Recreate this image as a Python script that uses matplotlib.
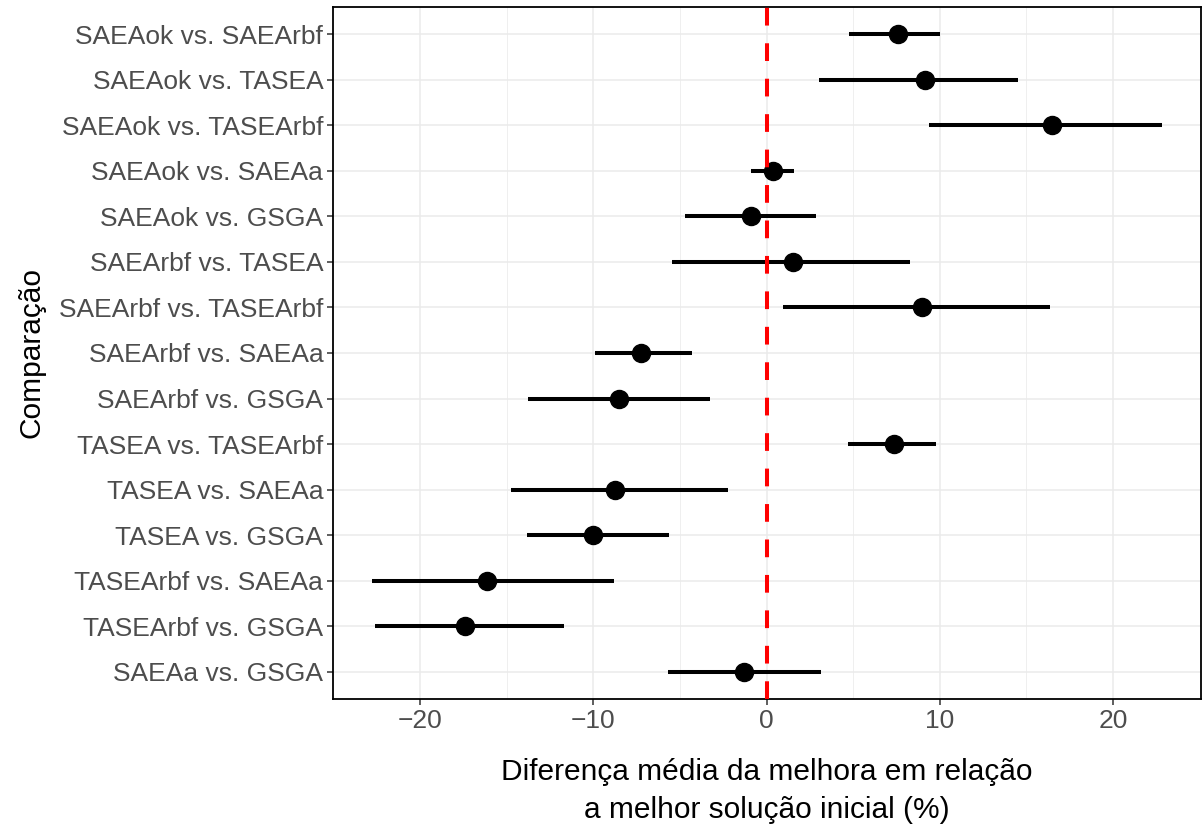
import numpy as np
import matplotlib.pyplot as plt
from matplotlib.ticker import MultipleLocator

plt.rcParams['font.family'] = ['Liberation Sans', 'DejaVu Sans']

comparacoes = ['SAEAok vs. SAEArbf', 'SAEAok vs. TASEA', 'SAEAok vs. TASEArbf',
               'SAEAok vs. SAEAa', 'SAEAok vs. GSGA', 'SAEArbf vs. TASEA',
               'SAEArbf vs. TASEArbf', 'SAEArbf vs. SAEAa', 'SAEArbf vs. GSGA',
               'TASEA vs. TASEArbf', 'TASEA vs. SAEAa', 'TASEA vs. GSGA',
               'TASEArbf vs. SAEAa', 'TASEArbf vs. GSGA', 'SAEAa vs. GSGA']
media = [7.58, 9.12, 16.5, 0.37, -0.92, 1.52, 8.95, -7.22, -8.53,
         7.38, -8.76, -10.03, -16.15, -17.43, -1.29]
inferior = [4.78, 3.0, 9.37, -0.88, -4.72, -5.47, 0.92, -9.91, -13.78,
            4.69, -14.76, -13.85, -22.75, -22.6, -5.7]
superior = [10.0, 14.5, 22.8, 1.56, 2.83, 8.3, 16.35, -4.33, -3.25,
            9.79, -2.25, -5.65, -8.82, -11.67, 3.17]

n = len(comparacoes)
y = np.arange(n)[::-1]

fig = plt.figure(figsize=(12.02, 8.32), dpi=100)
ax = fig.add_axes([333 / 1202, 133 / 832, 868 / 1202, 692 / 832])

ax.hlines(y, inferior, superior, color='black', linewidth=2.9, zorder=3)
ax.plot(media, y, 'o', color='black', markersize=13, zorder=4)
ax.axvline(0, color='red', linewidth=2.9, dashes=(4.4, 4.4), zorder=5)

lo, hi = min(inferior), max(superior)
pad = 0.05 * (hi - lo)
ax.set_xlim(lo - pad, hi + pad)
ax.set_ylim(-0.6, n - 1 + 0.6)

ax.xaxis.set_major_locator(MultipleLocator(10))
ax.xaxis.set_minor_locator(MultipleLocator(5))
ax.set_yticks(y)
ax.set_yticklabels(comparacoes)

ax.grid(which='major', color='#EBEBEB', linewidth=1.1, zorder=0)
ax.grid(which='minor', axis='x', color='#EBEBEB', linewidth=0.55, zorder=0)
ax.set_axisbelow(True)
ax.tick_params(axis='both', which='major', labelsize=19, labelcolor='#4D4D4D',
               color='#333333', length=4, width=1.1, pad=3)
ax.tick_params(axis='x', which='minor', length=0)
for s in ax.spines.values():
    s.set_color('black')
    s.set_linewidth(1.3)

ax.set_xlabel('Diferença média da melhora em relação\na melhor solução inicial (%)',
              fontsize=21.5, linespacing=1.45, labelpad=18)
ax.set_ylabel('Comparação', fontsize=21.5, labelpad=10)

fig.savefig('out.png', dpi=100)
